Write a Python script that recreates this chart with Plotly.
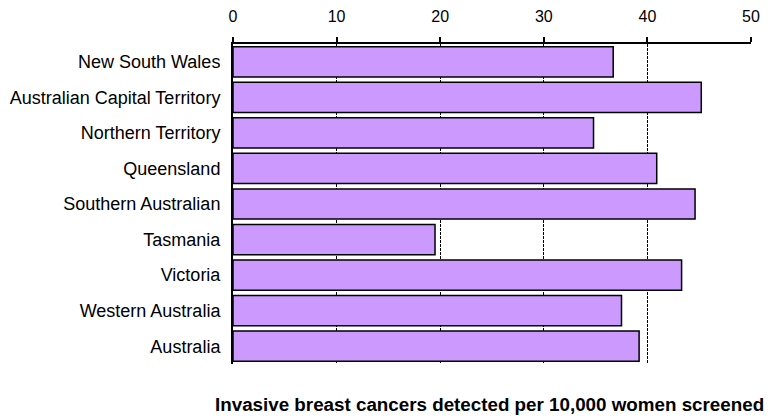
import plotly.graph_objects as go

categories = ["New South Wales", "Australian Capital Territory", "Northern Territory",
              "Queensland", "Southern Australian", "Tasmania", "Victoria",
              "Western Australia", "Australia"]
values = [36.7, 45.2, 34.8, 40.9, 44.6, 19.5, 43.3, 37.5, 39.2]
x_ticks = [0, 10, 20, 30, 40, 50]
x_title = "Invasive breast cancers detected per 10,000 women screened"

FONT = "Liberation Sans, Arial, sans-serif"

fig = go.Figure(go.Bar(
    y=categories, x=values, orientation="h",
    marker=dict(color="#CC99FF", line=dict(color="black", width=1.5)),
    width=0.85,
))

fig.update_layout(
    width=772, height=416,
    margin=dict(l=225, r=29, t=36, b=60, autoexpand=False),
    paper_bgcolor="white", plot_bgcolor="white",
    font=dict(family=FONT, size=17, color="black"),
    showlegend=False,
    xaxis=dict(
        side="top", range=[0, 50], tickvals=x_ticks,
        tickfont=dict(size=16),
        showgrid=True, gridcolor="black", gridwidth=1, griddash="3px,1px",
        showline=True, linecolor="black", linewidth=1.5,
        ticks="outside", ticklen=5, tickcolor="black", tickwidth=1.5,
        ticklabelstandoff=9, automargin=False,
        zeroline=False, fixedrange=True,
    ),
    yaxis=dict(
        categoryorder="array", categoryarray=categories, autorange="reversed",
        showline=True, linecolor="black", linewidth=2, automargin=False,
        showgrid=False, ticks="", ticklen=0, ticklabelstandoff=7,
        tickfont=dict(size=18),
    ),
    annotations=[dict(
        text="<b>" + x_title + "</b>", xref="paper", yref="paper",
        x=0.496, y=-0.128, xanchor="center", yanchor="middle", showarrow=False,
        font=dict(size=18.8, family=FONT),
    )],
    bargap=0.15,
)

fig.write_html("out.html")
